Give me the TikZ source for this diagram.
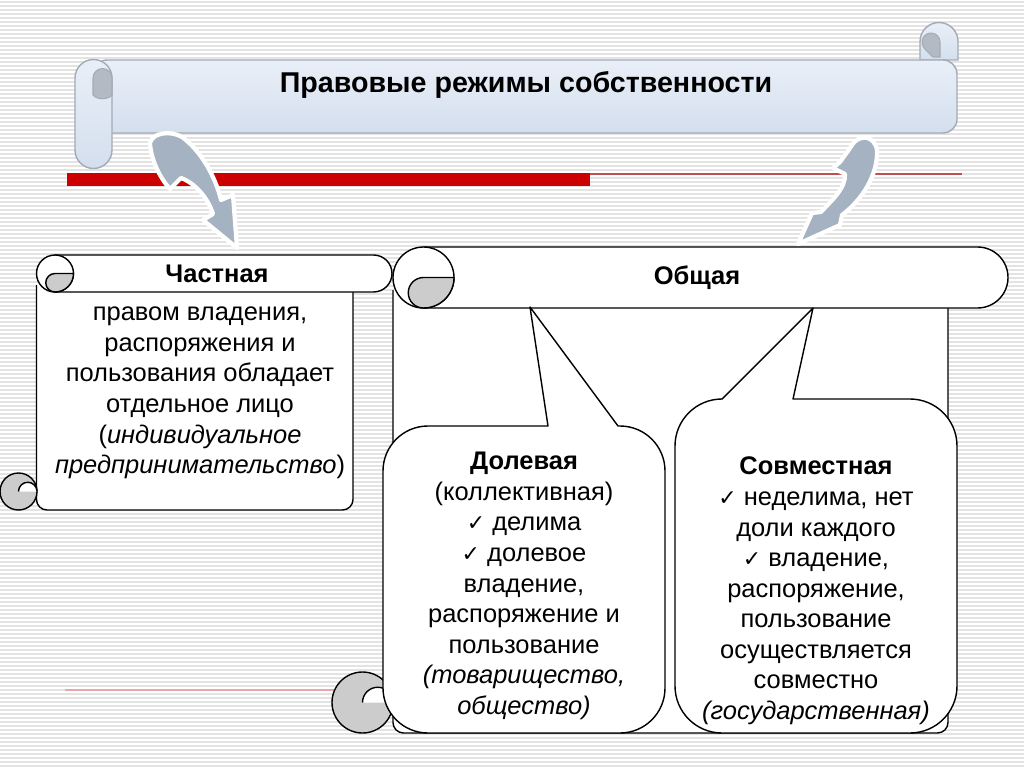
\documentclass[tikz,border=0pt]{standalone}
\usepackage{fontspec}
\setmainfont{Liberation Sans}
\newfontfamily\symfont{DejaVu Sans}
\usetikzlibrary{positioning}
\definecolor{stripegray}{HTML}{E3E3E3}
\definecolor{scrolltop}{HTML}{E9EFF8}
\definecolor{scrollbot}{HTML}{D4DFEE}
\definecolor{scrolledge}{HTML}{A3ABB5}
\definecolor{rollgray}{HTML}{B3BAC4}
\definecolor{arrowgray}{HTML}{A5B2C1}
\definecolor{barred}{HTML}{CC0000}
\definecolor{thinred}{HTML}{C0504D}
\definecolor{pinkline}{HTML}{E6A8A8}
\tikzset{
  txt/.style={align=center, inner sep=0pt, font=\fontsize{14.5}{17.4}\selectfont},
  hdr/.style={txt, font=\fontsize{14.5}{17.4}\selectfont\bfseries},
  stripe/.style={stripegray, line width=1.1pt},
  topscroll/.style={draw=scrolledge, line width=0.8pt, top color=scrolltop, bottom color=scrollbot},
  topcurl/.style={draw=scrolledge, line width=0.6pt, fill=rollgray},
  paper/.style={draw=black, line width=0.8pt, fill=white, line join=round},
  curl/.style={draw=black, line width=0.8pt, fill=black!20},
  bigarrow/.style={fill=arrowgray, draw=white, line width=2.4pt, line join=round}
}
\newcommand{\chk}{{\symfont\fontsize{12.5}{12}\selectfont ✓}\ }

\begin{document}
\begin{tikzpicture}[x=0.02cm, y=0.02cm]
  \useasboundingbox (0,0) rectangle (1024,-767);
  \fill[white] (0,0) rectangle (1024,-767);
  % background stripes
  \foreach \k in {0,...,191} \draw[stripe] (0,-4*\k-2) -- (1024,-4*\k-2);

  % title scroll
  \draw[topscroll] (920,-60) -- (920,-41.5) arc(180:0:19) -- (958,-60) -- cycle;
  \draw[topcurl] (922,-42) arc(180:0:9) -- (940,-57) -- (933,-57) .. controls (928,-52) and (922,-48) .. cycle;
  \draw[topscroll, rounded corners=8] (93,-60) -- (957,-60) -- (957,-133) -- (93,-133) -- cycle;
  \draw[topscroll] (75,-78) arc(180:0:18.5) -- (112,-150) arc(0:-180:18.5) -- cycle;
  \draw[topcurl] (93,-78) arc(180:0:9.5) -- (112,-95) .. controls (108,-100) and (97,-100) .. (93,-95) -- cycle;
  \node[hdr, font=\fontsize{16.3}{19}\selectfont\bfseries] (title) at (526,-85) {Правовые режимы собственности};

  % red bars
  \fill[barred] (67,-173) rectangle (590,-186);
  \draw[thinred, line width=0.8pt] (590,-174) -- (962,-174);
  \draw[pinkline, line width=0.8pt] (65,-690) -- (345,-690);

  % curved arrows
  \draw[bigarrow] (150,-143) .. controls (152,-133) and (170,-130) .. (182,-137)
    .. controls (200,-150) and (215,-175) .. (221,-200) -- (233,-195) -- (237,-248)
    -- (203,-220) -- (213,-214) .. controls (208,-198) and (195,-183) .. (181,-178)
    -- (170,-189) .. controls (160,-178) and (151,-160) .. cycle;
  \draw[bigarrow] (852,-145) .. controls (858,-135) and (874,-134) .. (877,-150)
    .. controls (878,-175) and (862,-200) .. (842,-215) -- (840,-225) -- (798,-244)
    -- (812,-213) -- (821,-212) .. controls (832,-200) and (846,-188) .. (845,-174)
    -- (833,-168) -- (840,-162) .. controls (845,-155) and (849,-150) .. cycle;

  % private: scroll
  \draw[paper, rounded corners=6] (36.5,-285) -- (36.5,-510) -- (353,-510) -- (353,-285);
  \draw[curl] (18.5,-491.5) circle (18.5);
  \draw[paper] (18.5,-491.5) arc(180:0:9.25);
  \draw[paper] (55,-255) -- (373.5,-255) arc(90:-90:18.5) -- (55,-292) -- cycle;
  \draw[paper] (55,-273.5) circle (18.5);
  \draw[curl] (55,-273.5) -- (73.5,-273.5) arc(0:-90:18.5) arc(-90:-270:9.25) -- cycle;
  \node[hdr] (chast) at (217,-274) {Частная};
  \node[txt] (chastbody) at (200,-393) {правом владения,\\распоряжения и\\пользования обладает\\отдельное лицо\\(\textit{индивидуальное}\\\textit{предпринимательство})};

  % common: scroll
  \draw[paper, rounded corners=6] (393,-290) -- (393,-733) -- (948,-733) -- (948,-300);
  \draw[curl] (362.5,-702.5) circle (30.5);
  \draw[paper] (362.5,-702.5) arc(180:0:15.25);
  \draw[paper] (423.5,-247) -- (977.5,-247) arc(90:-90:30.5) -- (423.5,-308) -- cycle;
  \draw[paper] (423.5,-277.5) circle (30.5);
  \draw[curl] (423.5,-277.5) -- (454,-277.5) arc(0:-90:30.5) arc(-90:-270:15.25) -- cycle;
  \node[hdr] (obsh) at (697,-278) {Общая};

  % callouts
  \draw[paper] (428,-426) -- (548,-426) -- (530,-307) -- (618,-426) -- (620,-426)
    arc(90:0:45) -- (665,-688) arc(0:-90:45) -- (428,-733) arc(270:180:45)
    -- (383,-471) arc(180:90:45) -- cycle;
  \draw[paper] (722,-399) -- (813,-308) -- (793,-399) -- (910,-399)
    arc(90:0:47) -- (957,-686) arc(0:-90:47) -- (722,-733) arc(270:180:47)
    -- (675,-446) arc(180:90:47) -- cycle;
  \node[txt] (dol) at (524,-586) {\textbf{Долевая}\\(коллективная)\\\chk делима\\\chk долевое\\владение,\\распоряжение и\\пользование\\\textit{(товарищество,}\\\textit{общество)}};
  \node[txt] (sovm) at (816,-591) {\textbf{Совместная}\\\chk неделима, нет\\доли каждого\\\chk владение,\\распоряжение,\\пользование\\осуществляется\\совместно\\\textit{(государственная)}};
\end{tikzpicture}
\end{document}
